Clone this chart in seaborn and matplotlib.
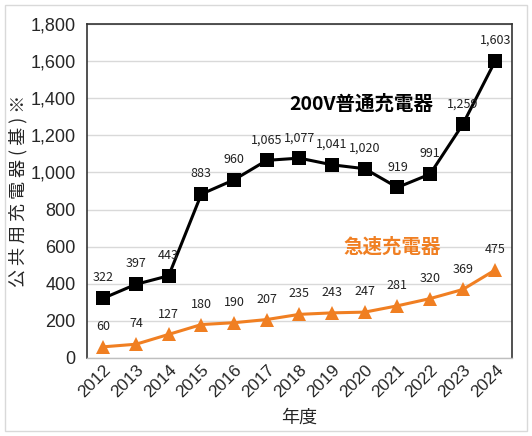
import matplotlib
matplotlib.use("Agg")
import matplotlib.pyplot as plt
import seaborn as sns
import pandas as pd
from matplotlib.patches import Rectangle
from matplotlib.ticker import FuncFormatter, MultipleLocator

years = [2012, 2013, 2014, 2015, 2016, 2017, 2018, 2019, 2020, 2021, 2022, 2023, 2024]
normal_200v = [322, 397, 443, 883, 960, 1065, 1077, 1041, 1020, 919, 991, 1259, 1603]
quick = [60, 74, 127, 180, 190, 207, 235, 243, 247, 281, 320, 369, 475]

sns.set_style("white")
plt.rcParams["font.family"] = ["Noto Sans CJK JP", "DejaVu Sans"]
num_font = ["Liberation Sans", "DejaVu Sans"]

df = pd.DataFrame({
    "year": years * 2,
    "value": normal_200v + quick,
    "kind": ["200V普通充電器"] * len(years) + ["急速充電器"] * len(years),
})

fig = plt.figure(figsize=(5.32, 4.36), dpi=100)
ax = fig.add_axes([0.1635, 0.179, 0.7985, 0.766])

black = "#000000"
orange = "#F07F22"

sns.lineplot(data=df, x="year", y="value", hue="kind", style="kind",
             palette={"200V普通充電器": black, "急速充電器": orange},
             markers={"200V普通充電器": "s", "急速充電器": "^"},
             dashes=False, markersize=10.5, linewidth=2.2,
             markeredgewidth=0, legend=False, ax=ax)

ax.set_xlim(2011.5, 2024.5)
ax.set_ylim(0, 1800)
ax.yaxis.set_major_locator(MultipleLocator(200))
ax.yaxis.set_major_formatter(FuncFormatter(lambda v, p: f"{int(v):,}"))
ax.set_xticks(years)
ax.set_xticklabels([str(y) for y in years], rotation=45, ha="right",
                   rotation_mode="anchor", fontsize=12.5, family=num_font)
ax.tick_params(axis="y", labelsize=13, length=0, pad=8)
for lbl in ax.get_yticklabels():
    lbl.set_family(num_font)
ax.tick_params(axis="x", length=0, pad=3)
ax.grid(axis="y", color="#d9d9d9", linewidth=1)
ax.set_axisbelow(True)
for side in ["left", "top", "right"]:
    ax.spines[side].set_color("#333333")
    ax.spines[side].set_linewidth(1.2)
ax.spines["bottom"].set_color("#bfbfbf")
ax.spines["bottom"].set_linewidth(1)

ax.set_xlabel("年度", fontsize=13, labelpad=6)
ax.set_ylabel("公 共 用 充 電 器 ( 基 ) ※", fontsize=13, labelpad=2)

for x, v in zip(years, normal_200v):
    ax.annotate(f"{v:,}", (x, v), xytext=(0, 10), textcoords="offset points",
                ha="center", va="bottom", fontsize=9, color="#222222")
for x, v in zip(years, quick):
    ax.annotate(f"{v:,}", (x, v), xytext=(0, 10), textcoords="offset points",
                ha="center", va="bottom", fontsize=9, color="#222222")

ax.text(2019.9, 1370, "200V普通充電器", fontsize=14, fontweight="bold",
        color=black, ha="center", va="center")
ax.text(2020.85, 595, "急速充電器", fontsize=14, fontweight="bold",
        color=orange, ha="center", va="center")

fig.patches.append(Rectangle((5 / 532, 5 / 436), 522 / 532, 426 / 436,
                             transform=fig.transFigure, fill=False,
                             edgecolor="#d9d9d9", linewidth=1))

fig.savefig("out.png", dpi=100)
